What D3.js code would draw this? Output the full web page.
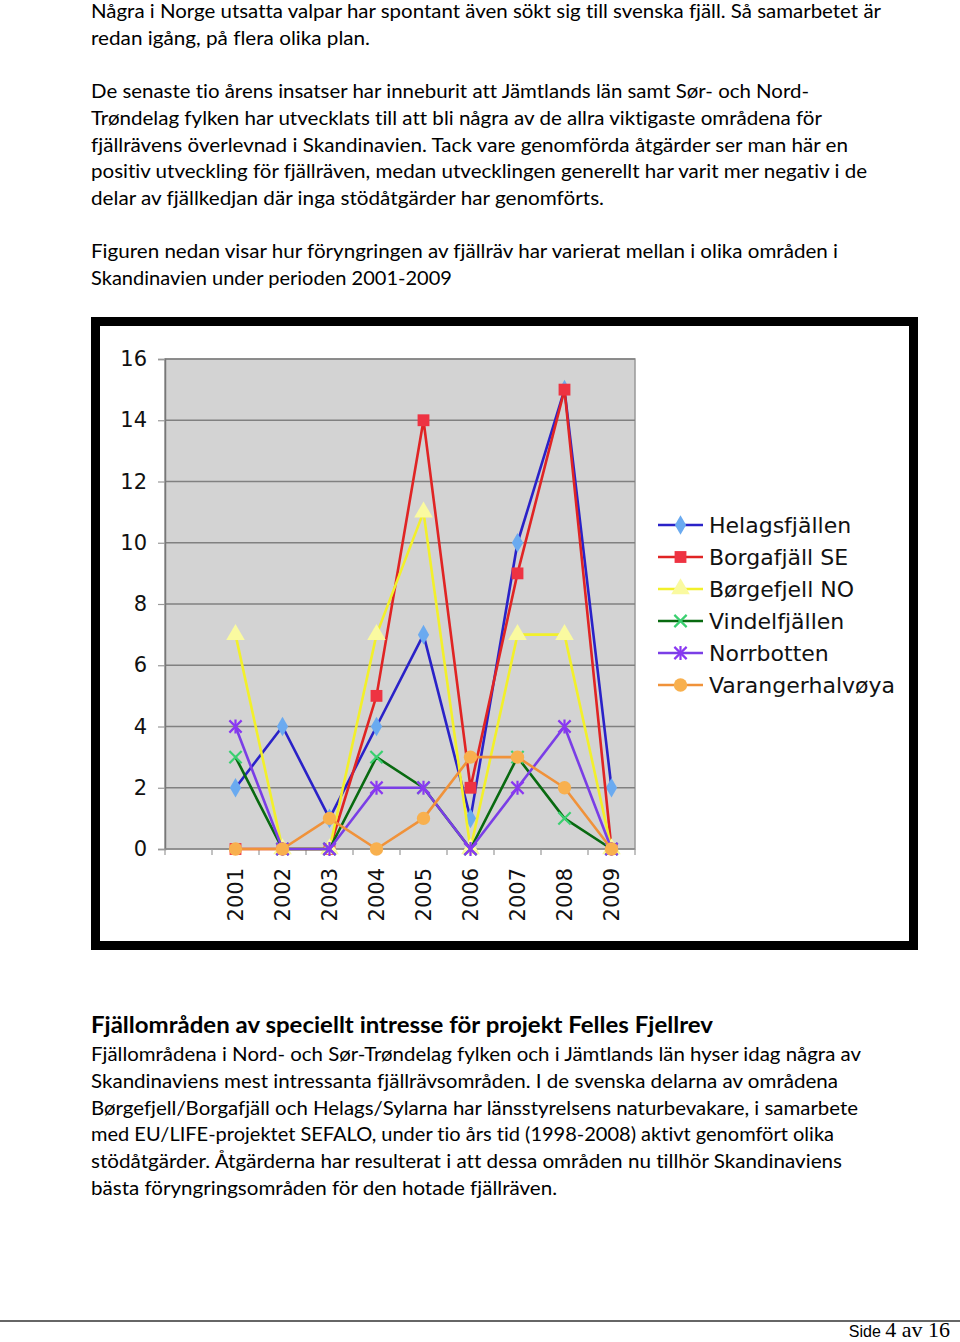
<!DOCTYPE html>
<html>
<head>
<meta charset="utf-8">
<script src="https://cdn.jsdelivr.net/npm/d3@7"></script>
<style>
  html, body { margin: 0; padding: 0; background: #fff; }
  svg { display: block; }
  text { font-variant-ligatures: none; font-feature-settings: "liga" 0, "clig" 0, "dlig" 0; }
</style>
</head>
<body>
<svg id="page" width="960" height="1342"></svg>
<script>
// ---------- DATA ----------
const categories = ["", "2001", "2002", "2003", "2004", "2005", "2006", "2007", "2008", "2009"];
const years = ["2001", "2002", "2003", "2004", "2005", "2006", "2007", "2008", "2009"];
const seriesNames = ["Helagsfjällen", "Borgafjäll SE", "Børgefjell NO", "Vindelfjällen", "Norrbotten", "Varangerhalvøya"];
const helagsfjallen   = [2, 4, 1, 4, 7, 1, 10, 15, 2];
const borgafjallSE    = [0, 0, 0, 5, 14, 2, 9, 15, 0];
const borgefjellNO    = [7, 0, 0, 7, 11, 0, 7, 7, 0];
const vindelfjallen   = [3, 0, 0, 3, 2, 0, 3, 1, 0];
const norrbotten      = [4, 0, 0, 2, 2, 0, 2, 4, 0];
const varangerhalvoya = [0, 0, 1, 0, 1, 3, 3, 2, 0];
const yTicks = [0, 2, 4, 6, 8, 10, 12, 14, 16];

const textTop = [
  "Några i Norge utsatta valpar har spontant även sökt sig till svenska fjäll. Så samarbetet är",
  "redan igång, på flera olika plan.",
  "",
  "De senaste tio årens insatser har inneburit att Jämtlands län samt Sør- och Nord-",
  "Trøndelag fylken har utvecklats till att bli några av de allra viktigaste områdena för",
  "fjällrävens överlevnad i Skandinavien. Tack vare genomförda åtgärder ser man här en",
  "positiv utveckling för fjällräven, medan utvecklingen generellt har varit mer negativ i de",
  "delar av fjällkedjan där inga stödåtgärder har genomförts.",
  "",
  "Figuren nedan visar hur föryngringen av fjällräv har varierat mellan i olika områden i",
  "Skandinavien under perioden 2001-2009"
];
const heading = "Fjällområden av speciellt intresse för projekt Felles Fjellrev";
const textBottom = [
  "Fjällområdena i Nord- och Sør-Trøndelag fylken och i Jämtlands län hyser idag några av",
  "Skandinaviens mest intressanta fjällrävsområden. I de svenska delarna av områdena",
  "Børgefjell/Borgafjäll och Helags/Sylarna har länsstyrelsens naturbevakare, i samarbete",
  "med EU/LIFE-projektet SEFALO, under tio års tid (1998-2008) aktivt genomfört olika",
  "stödåtgärder. Åtgärderna har resulterat i att dessa områden nu tillhör Skandinaviens",
  "bästa föryngringsområden för den hotade fjällräven."
];

// ---------- STYLE ----------
const seriesData = [helagsfjallen, borgafjallSE, borgefjellNO, vindelfjallen, norrbotten, varangerhalvoya];
const lineColors = ["#2a22c8", "#e02424", "#f2f02a", "#086a10", "#7a3ee6", "#f0923a"];
const markColors = ["#6aaaf0", "#ee3342", "#fafaa0", "#3ad070", "#8a38f2", "#f8b04e"];
const markTypes = ["diamond", "square", "triangle", "x", "star", "circle"];

const svg = d3.select("#page");
const bodyFont = "Lato, 'Open Sans', sans-serif";

// text widths (estimated line right edges)
const topRight = [881, 370, 0, 809, 822, 848, 867, 604, 0, 838, 452];
const botRight = [861, 838, 858, 834, 842, 557];

function textBlock(lines, rights, y0, lh) {
  lines.forEach((t, i) => {
    if (!t) return;
    svg.append("text")
      .attr("x", 91).attr("y", y0 + i * lh)
      .attr("font-family", bodyFont).attr("font-size", 19.5)
      .attr("fill", "#000")
      .attr("textLength", rights[i] - 91)
      .attr("lengthAdjust", "spacingAndGlyphs")
      .text(t);
  });
}
textBlock(textTop, topRight, 18, 26.7);

svg.append("text").attr("x", 91).attr("y", 1033)
  .attr("font-family", bodyFont).attr("font-weight", "bold").attr("font-size", 22)
  .attr("textLength", 713 - 91).attr("lengthAdjust", "spacingAndGlyphs")
  .text(heading);
textBlock(textBottom, botRight, 1061, 26.8);

// footer
svg.append("line").attr("x1", 0).attr("x2", 960).attr("y1", 1321).attr("y2", 1321)
  .attr("stroke", "#666").attr("stroke-width", 2);
const foot = svg.append("text").attr("x", 950).attr("y", 1337).attr("text-anchor", "end");
foot.append("tspan").attr("font-family", "'Liberation Sans', Arial, sans-serif").attr("font-size", 16).text("Side ");
foot.append("tspan").attr("font-family", "'Liberation Serif', 'Times New Roman', serif").attr("font-size", 22).text("4 av 16");

// ---------- CHART FRAME ----------
svg.append("rect").attr("x", 95.5).attr("y", 321.5).attr("width", 818).attr("height", 624)
  .attr("fill", "#fff").attr("stroke", "#000").attr("stroke-width", 9);

// ---------- SCALES ----------
const x = d3.scaleBand().domain(categories).range([165, 635]).paddingInner(0).paddingOuter(0);
const y = d3.scaleLinear().domain([0, 16]).range([849, 359]);
const cx = d => x(d) + x.bandwidth() / 2;

const plot = svg.append("g");
plot.append("rect").attr("x", 165).attr("y", y(16)).attr("width", 635 - 165).attr("height", y(0) - y(16))
  .attr("fill", "#d3d3d3").attr("stroke", "#999").attr("stroke-width", 1.5);

// gridlines
plot.selectAll("line.grid").data(yTicks.filter(v => v > 0)).enter().append("line")
  .attr("x1", 165).attr("x2", 635).attr("y1", d => y(d)).attr("y2", d => y(d))
  .attr("stroke", "#808080").attr("stroke-width", 1.5);

// y axis
const yAxis = d3.axisLeft(y).tickValues(yTicks).tickSize(7).tickPadding(11).tickFormat(d3.format("d"));
const yg = svg.append("g").attr("transform", "translate(165,0)").call(yAxis);
yg.select(".domain").attr("stroke", "#777").attr("stroke-width", 1.5);
yg.selectAll(".tick line").attr("stroke", "#999").attr("stroke-width", 1.2);
yg.selectAll(".tick text").attr("font-family", "'DejaVu Sans', Verdana, sans-serif").attr("font-size", 21).attr("fill", "#111");

// x axis: ticks between categories
const xEdges = categories.map(c => x(c)).concat([635]);
const xg = svg.append("g");
xg.append("line").attr("x1", 165).attr("x2", 635).attr("y1", y(0)).attr("y2", y(0))
  .attr("stroke", "#888").attr("stroke-width", 1.5);
xg.selectAll("line.t").data(xEdges).enter().append("line")
  .attr("x1", d => d).attr("x2", d => d).attr("y1", y(0)).attr("y2", y(0) + 6)
  .attr("stroke", "#999").attr("stroke-width", 1.2);
xg.selectAll("text").data(years).enter().append("text")
  .attr("transform", d => `translate(${cx(d)},868) rotate(-90)`)
  .attr("text-anchor", "end").attr("dy", "0.36em")
  .attr("font-family", "'DejaVu Sans', Verdana, sans-serif").attr("font-size", 21).attr("fill", "#111")
  .text(d => d);

// ---------- MARKERS ----------
function drawMarker(g, type, px, py, fill) {
  if (type === "diamond") {
    g.append("path").attr("d", d3.symbol(d3.symbolDiamond, 110)()).attr("transform", `translate(${px},${py})`).attr("fill", fill);
  } else if (type === "square") {
    g.append("path").attr("d", d3.symbol(d3.symbolSquare, 140)()).attr("transform", `translate(${px},${py})`).attr("fill", fill);
  } else if (type === "triangle") {
    g.append("path").attr("d", d3.symbol(d3.symbolTriangle, 150)()).attr("transform", `translate(${px},${py})`).attr("fill", fill);
  } else if (type === "circle") {
    g.append("path").attr("d", d3.symbol(d3.symbolCircle, 140)()).attr("transform", `translate(${px},${py})`).attr("fill", fill);
  } else if (type === "x") {
    g.append("path").attr("d", d3.symbol(d3.symbolTimes, 100)()).attr("transform", `translate(${px},${py})`)
      .attr("fill", "none").attr("stroke", fill).attr("stroke-width", 2.2);
  } else if (type === "star") {
    g.append("path").attr("d", d3.symbol(d3.symbolTimes, 100)()).attr("transform", `translate(${px},${py})`)
      .attr("fill", "none").attr("stroke", fill).attr("stroke-width", 2.2);
    g.append("line").attr("x1", px).attr("x2", px).attr("y1", py - 7).attr("y2", py + 7)
      .attr("stroke", fill).attr("stroke-width", 2.2);
  }
}

// ---------- LINES ----------
const lineGen = d3.line().x(d => cx(d.year)).y(d => y(d.v));
seriesData.forEach((vals, si) => {
  const pts = years.map((yr, i) => ({ year: yr, v: vals[i] }));
  const g = svg.append("g");
  g.append("path").datum(pts).attr("d", lineGen)
    .attr("fill", "none").attr("stroke", lineColors[si]).attr("stroke-width", 2.6)
    .attr("stroke-linejoin", "round");
  pts.forEach(p => drawMarker(g, markTypes[si], cx(p.year), y(p.v), markColors[si]));
});

// ---------- LEGEND ----------
const lg = svg.append("g");
seriesNames.forEach((name, i) => {
  const ly = 525 + i * 32;
  lg.append("line").attr("x1", 658).attr("x2", 703).attr("y1", ly).attr("y2", ly)
    .attr("stroke", lineColors[i]).attr("stroke-width", 2.6);
  drawMarker(lg, markTypes[i], 680.5, ly, markColors[i]);
  lg.append("text").attr("x", 709).attr("y", ly).attr("dy", "0.36em")
    .attr("font-family", "'DejaVu Sans', Verdana, sans-serif").attr("font-size", 22).attr("fill", "#111")
    .text(name);
});
</script>
</body>
</html>
